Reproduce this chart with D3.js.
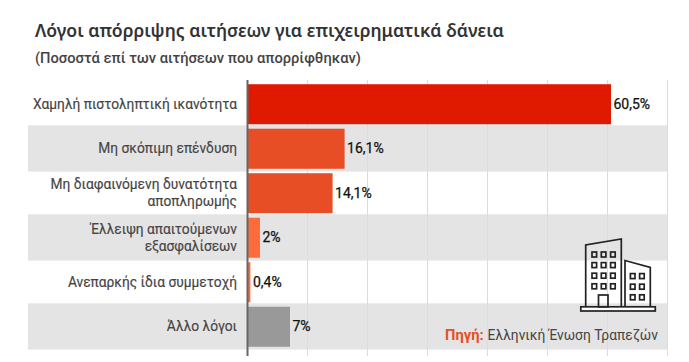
<!DOCTYPE html>
<html lang="el">
<head>
<meta charset="utf-8">
<script src="https://cdn.jsdelivr.net/npm/d3@7"></script>
<style>
  html, body { margin: 0; padding: 0; background: #fff; }
  svg { display: block; }
  text { font-family: Roboto, sans-serif; }
</style>
</head>
<body>
<div id="chart"></div>
<script>
const categories = [
  ["Χαμηλή πιστοληπτική ικανότητα"],
  ["Μη σκόπιμη επένδυση"],
  ["Μη διαφαινόμενη δυνατότητα", "αποπληρωμής"],
  ["Έλλειψη απαιτούμενων", "εξασφαλίσεων"],
  ["Ανεπαρκής ίδια συμμετοχή"],
  ["Άλλο λόγοι"],
];
const values = [60.5, 16.1, 14.1, 2, 0.4, 7];
const xTicks = [0, 10, 20, 30, 40, 50, 60, 70];
const barColors = ["#e01a00", "#e84e26", "#e84e26", "#ff6b3a", "#ff6b3a", "#999999"];

const titleText = "Λόγοι απόρριψης αιτήσεων για επιχειρηματικά δάνεια";
const subtitleText = "(Ποσοστά επί των αιτήσεων που απορρίφθηκαν)";
const sourceLabel = "Πηγή:";
const sourceText = "Ελληνική Ένωση Τραπεζών";

const width = 689;
const height = 362;

const svg = d3.select("#chart").append("svg")
  .attr("width", width)
  .attr("height", height)
  .attr("viewBox", `0 0 ${width} ${height}`);

const x = d3.scaleLinear().domain([0, 70]).range([248, 668]);
const y = d3.scaleBand()
  .domain(d3.range(categories.length))
  .range([82, 349])
  .paddingInner(0.1)
  .paddingOuter(0.05);
const fmt = d3.formatLocale({ decimal: ",", thousands: ".", grouping: [3], currency: ["", "€"] }).format(".3~r");

svg.append("text")
  .attr("x", 35).attr("y", 37)
  .attr("font-size", 17.6).attr("font-weight", 600)
  .style("font-family", "'Noto Sans', sans-serif")
  .attr("fill", "#333")
  .text(titleText);

svg.append("text")
  .attr("x", 35).attr("y", 63)
  .attr("font-size", 14.7).attr("font-weight", 500)
  .attr("fill", "#444")
  .text(subtitleText);

// alternate rows, gray ones run a bit over the band
svg.selectAll("rect.stripe")
  .data(d3.range(categories.length).filter((i) => i % 2 === 1))
  .enter()
  .append("rect")
  .attr("class", "stripe")
  .attr("x", 28)
  .attr("width", 640)
  .attr("y", (i) => y(i) - y.step() * 0.05 - 1.2)
  .attr("height", y.step() + 1.8)
  .attr("fill", "#e4e4e4");

// gridlines
svg.selectAll("line.grid")
  .data(xTicks.slice(1))
  .enter()
  .append("line")
  .attr("class", "grid")
  .attr("x1", (d) => x(d) - 0.5)
  .attr("x2", (d) => x(d) - 0.5)
  .attr("y1", 80)
  .attr("y2", 356)
  .attr("stroke", "#dcdcdc")
  .attr("stroke-width", 1);

svg.selectAll("rect.bar")
  .data(values)
  .enter()
  .append("rect")
  .attr("class", "bar")
  .attr("x", x(0))
  .attr("y", (d, i) => y(i))
  .attr("width", (d) => x(d) - x(0))
  .attr("height", y.bandwidth())
  .attr("fill", (d, i) => barColors[i]);

// axis line on the left of the bars
svg.append("g")
  .attr("transform", `translate(${x(0) - 0.5},0)`)
  .append("line")
  .attr("y1", 80)
  .attr("y2", 356)
  .attr("stroke", "#666")
  .attr("stroke-width", 2);

const labels = svg.selectAll("text.cat")
  .data(categories)
  .enter()
  .append("text")
  .attr("class", "cat")
  .attr("text-anchor", "end")
  .attr("font-size", 13.75)
  .attr("fill", "#444")
  .attr("stroke", "#444")
  .attr("stroke-width", 0.15);

labels.each(function (lines, i) {
  const mid = y(i) + y.bandwidth() / 2;
  d3.select(this).selectAll("tspan")
    .data(lines)
    .enter()
    .append("tspan")
    .attr("x", 237)
    .attr("y", (d, j) => mid + 4.5 + (j - (lines.length - 1) / 2) * 17)
    .text((d) => d);
});

svg.selectAll("text.value")
  .data(values)
  .enter()
  .append("text")
  .attr("class", "value")
  .attr("x", (d) => x(d) + 2.5)
  .attr("y", (d, i) => y(i) + y.bandwidth() / 2 + 4.5)
  .attr("font-size", 14)
  .attr("fill", "#111")
  .attr("stroke", "#111")
  .attr("stroke-width", 0.25)
  .text((d) => fmt(d) + "%");

// building icon
const icon = svg.append("g")
  .attr("fill", "none")
  .attr("stroke", "#222")
  .attr("stroke-width", 1.7);
icon.append("path").attr("d", "M585.7 306.5V245L621.3 239V306.5");
icon.append("path").attr("d", "M625 306.5V260.5L650.3 267.5V306.5");
icon.append("rect").attr("x", 580.8).attr("y", 306.8).attr("width", 74.5).attr("height", 4.2).attr("fill", "#fff");
icon.append("rect").attr("x", 598.5).attr("y", 295).attr("width", 9.5).attr("height", 11.8);

const winRows = [252, 262.6, 273.2, 283.8];
const winCols = [592, 601.3, 610.6];
const winRows2 = [273.6, 284.2, 294.8];
const winCols2 = [630.4, 639.6];
const windows = [
  ...d3.cross(winCols, winRows),
  ...d3.cross(winCols2, winRows2),
];
icon.selectAll("rect.win")
  .data(windows)
  .enter()
  .append("rect")
  .attr("class", "win")
  .attr("x", (d) => d[0])
  .attr("y", (d) => d[1])
  .attr("width", 4.6)
  .attr("height", 5);

const source = svg.append("text")
  .attr("x", 445).attr("y", 340);
source.append("tspan")
  .attr("font-size", 14.7)
  .attr("font-weight", 700)
  .attr("fill", "#e84e26")
  .text(sourceLabel);
source.append("tspan")
  .attr("dx", 4)
  .attr("font-size", 13.8)
  .attr("fill", "#444")
  .text(sourceText);
</script>
</body>
</html>
